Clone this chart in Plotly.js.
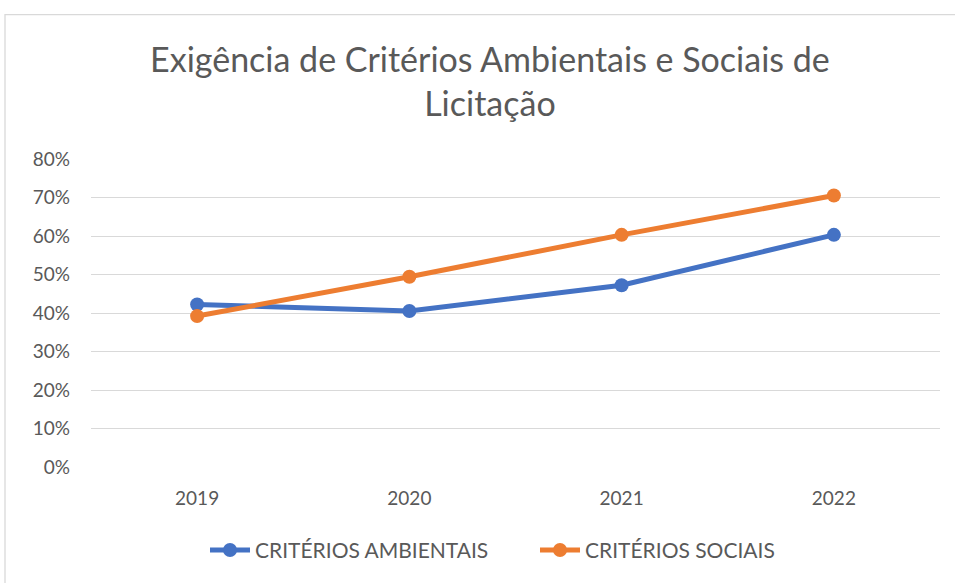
<!DOCTYPE html>
<html><head><meta charset="utf-8">
<script src="https://cdn.plot.ly/plotly-3.0.1.min.js"></script>
<style>html,body{margin:0;padding:0;background:#fff;}#chart{width:955px;height:583px;}</style>
</head><body><div id="chart"></div>
<script>
const years = ['2019', '2020', '2021', '2022'];
const ambientais = [0.422, 0.405, 0.472, 0.603];
const sociais = [0.392, 0.494, 0.603, 0.705];
const yTicks = [0, 0.1, 0.2, 0.3, 0.4, 0.5, 0.6, 0.7, 0.8];
const yTickText = ['0%', '10%', '20%', '30%', '40%', '50%', '60%', '70%', '80%'];

const FONT = 'Lato, "Open Sans", sans-serif';
const traces = [
  {x: years, y: ambientais, name: 'CRITÉRIOS AMBIENTAIS', type: 'scatter', mode: 'lines+markers',
   line: {color: '#4472C4', width: 5}, marker: {color: '#4472C4', size: 14}, legend: 'legend'},
  {x: years, y: sociais, name: 'CRITÉRIOS SOCIAIS', type: 'scatter', mode: 'lines+markers',
   line: {color: '#ED7D31', width: 5}, marker: {color: '#ED7D31', size: 14}, legend: 'legend2'}
];
const legendBase = {orientation: 'h', xref: 'container', xanchor: 'left', y: 0.056, yref: 'container',
  yanchor: 'middle', font: {size: 21, color: '#595959'}, itemwidth: 40, bgcolor: 'rgba(0,0,0,0)'};
const layout = {
  width: 955, height: 583,
  margin: {l: 91, r: 15, t: 159, b: 116},
  paper_bgcolor: '#fff', plot_bgcolor: '#fff',
  font: {family: FONT, color: '#595959', size: 19},
  title: {text: 'Exigência de Critérios Ambientais e Sociais de<br>Licitação',
    font: {family: FONT, size: 34, color: '#595959'},
    x: 0.513, xref: 'container', xanchor: 'center', y: 0.876, yref: 'container', yanchor: 'top'},
  xaxis: {type: 'category', showgrid: false, zeroline: false, showline: false, ticks: '',
    ticklabelstandoff: 18, tickfont: {size: 19, color: '#595959'}, range: [-0.5, 3.5]},
  yaxis: {range: [0, 0.8], tickvals: yTicks, ticktext: yTickText, showgrid: true, gridcolor: '#d9d9d9',
    gridwidth: 1.3, zeroline: false, showline: false, ticks: '', ticklabelstandoff: 20,
    tickfont: {size: 19, color: '#595959'}},
  showlegend: true,
  legend: Object.assign({}, legendBase, {x: 205 / 955}),
  legend2: Object.assign({}, legendBase, {x: 535 / 955}),
  shapes: [{type: 'rect', xref: 'paper', yref: 'paper', x0: -0.1013, x1: 1.04, y0: -0.6, y1: 1.469,
    line: {color: '#d9d9d9', width: 1.3}, fillcolor: 'rgba(0,0,0,0)', layer: 'below'}]
};
Plotly.newPlot('chart', traces, layout, {displayModeBar: false});
</script></body></html>
